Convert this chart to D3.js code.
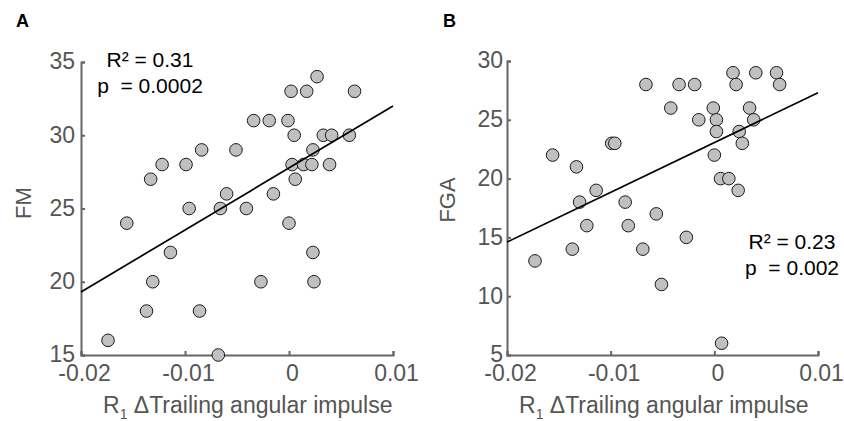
<!DOCTYPE html>
<html>
<head>
<meta charset="utf-8">
<script src="https://cdn.jsdelivr.net/npm/d3@7"></script>
<style>
  body { margin: 0; background: #fff; }
  svg { font-family: "Liberation Sans", Arial, sans-serif; }
  .tick text { fill: #555; font-size: 23px; }
  .domain, .tick line { stroke: #666; stroke-width: 2px; }
</style>
</head>
<body>
<svg width="844" height="421"></svg>
<script>
// Panel A: FM vs R1 delta trailing angular impulse
const fmX = [0.0027, 0.0002, 0.0017, 0.0063, -0.0034, -0.0019, -0.0001, 0.0005, 0.0033, 0.0041,
  0.0058, -0.0084, -0.0051, 0.0023, -0.0122, -0.0099, 0.0003, 0.0014, 0.0022, 0.0039,
  -0.0133, 0.0006, -0.0060, -0.0015, -0.0096, -0.0066, -0.0041, -0.0156, 0.0000, -0.0114,
  0.0023, -0.0131, -0.0027, 0.0024, -0.0137, -0.0086, -0.0174, -0.0068];
const fmY = [34, 33, 33, 33, 31, 31, 31, 30, 30, 30,
  30, 29, 29, 29, 28, 28, 28, 28, 28, 28,
  27, 27, 26, 26, 25, 25, 25, 24, 24, 22,
  22, 20, 20, 20, 18, 18, 16, 15];
const fmFitX = [-0.02, 0.01];
const fmFitY = [19.3, 32.0];

// Panel B: FGA vs R1 delta trailing angular impulse
const fgaX = [0.0018, 0.0040, 0.0060, -0.0066, -0.0034, -0.0019, 0.0021, 0.0063, -0.0042, -0.0001,
  0.0034, -0.0015, 0.0002, 0.0038, 0.0002, 0.0024, -0.0099, -0.0096, 0.0027, -0.0156,
  0.0000, -0.0133, 0.0006, 0.0014, -0.0114, 0.0023, -0.0130, -0.0086, -0.0056, -0.0123,
  -0.0083, -0.0027, -0.0137, -0.0069, -0.0173, -0.0051, 0.0007];
const fgaY = [29, 29, 29, 28, 28, 28, 28, 28, 26, 26,
  26, 25, 25, 25, 24, 24, 23, 23, 23, 22,
  22, 21, 20, 20, 19, 19, 18, 18, 17, 16,
  16, 15, 14, 14, 13, 11, 6];
const fgaFitX = [-0.02, 0.01];
const fgaFitY = [14.6, 27.3];

const xTicks = [-0.02, -0.01, 0, 0.01];
const xTickLabels = ["-0.02", "-0.01", "0", "0.01"];
const fmTicks = [15, 20, 25, 30, 35];
const fgaTicks = [5, 10, 15, 20, 25, 30];

const svg = d3.select("svg");

function panel(cfg) {
  const x = d3.scaleLinear().domain([-0.02, 0.01]).range([cfg.left, cfg.right]);
  const y = d3.scaleLinear().domain(cfg.yDomain).range([cfg.bottom, cfg.top]);

  // ejes estilo matlab, ticks hacia dentro
  svg.append("g")
    .attr("transform", `translate(0,${cfg.bottom})`)
    .call(d3.axisBottom(x).tickValues(xTicks)
      .tickFormat((d, i) => xTickLabels[i])
      .tickSizeInner(-4).tickSizeOuter(-4).tickPadding(10))
    .selectAll("text").attr("dx", 3);

  svg.append("g")
    .attr("transform", `translate(${cfg.left},0)`)
    .call(d3.axisLeft(y).tickValues(cfg.yTicks)
      .tickSizeInner(-4).tickSizeOuter(-4).tickPadding(cfg.yPad))
    .selectAll("text").attr("dy", "0.3em");

  svg.selectAll("g").attr("font-family", null).attr("font-size", null);

  // puntos
  svg.append("g")
    .selectAll("circle")
    .data(cfg.xs.map((d, i) => [d, cfg.ys[i]]))
    .enter()
    .append("circle")
    .attr("cx", d => x(d[0]))
    .attr("cy", d => y(d[1]))
    .attr("r", 6.3)
    .style("fill", "#c0c0c0")
    .style("stroke", "#1a1a1a")
    .style("stroke-width", 1);

  // recta de ajuste
  svg.append("line")
    .attr("x1", x(cfg.fitX[0])).attr("y1", y(cfg.fitY[0]))
    .attr("x2", x(cfg.fitX[1])).attr("y2", y(cfg.fitY[1]))
    .style("stroke", "#000")
    .style("stroke-width", 1.7);

  // etiqueta eje x
  const xl = svg.append("text")
    .attr("x", cfg.xLabelX)
    .attr("y", 413)
    .style("font-size", "23px")
    .style("fill", "#555")
    .style("white-space", "pre");
  xl.append("tspan").text("R");
  xl.append("tspan").text("1").style("font-size", "14px").attr("dy", 6);
  xl.append("tspan").text(" \u0394Trailing angular impulse").attr("dy", -6);

  // etiqueta eje y
  svg.append("text")
    .attr("transform", `translate(${cfg.yLabelX},${cfg.yLabelY}) rotate(-90)`)
    .style("text-anchor", "middle")
    .style("font-size", "22px")
    .style("fill", "#555")
    .text(cfg.yLabel);

  // letra del panel
  svg.append("text")
    .attr("x", cfg.letterX)
    .attr("y", 27)
    .style("font-size", "18px")
    .style("font-weight", "bold")
    .text(cfg.letter);

  // estadisticos
  cfg.stats.forEach((s, i) => {
    svg.append("text")
      .attr("x", cfg.statX)
      .attr("y", cfg.statY + i * 26)
      .style("text-anchor", "middle")
      .style("font-size", "21px")
      .style("white-space", "pre")
      .style("fill", "#000")
      .text(s);
  });
}

panel({
  left: 81, right: 393, top: 62, bottom: 355,
  yDomain: [15, 35], yTicks: fmTicks, yPad: 6,
  xs: fmX, ys: fmY, fitX: fmFitX, fitY: fmFitY,
  xLabelX: 103, yLabel: "FM", yLabelX: 31, yLabelY: 203,
  letter: "A", letterX: 16,
  stats: ["R\u00b2 = 0.31", "p  = 0.0002"], statX: 150, statY: 67
});

panel({
  left: 507, right: 818, top: 61, bottom: 355,
  yDomain: [5, 30], yTicks: fgaTicks, yPad: 4,
  xs: fgaX, ys: fgaY, fitX: fgaFitX, fitY: fgaFitY,
  xLabelX: 519, yLabel: "FGA", yLabelX: 455, yLabelY: 200,
  letter: "B", letterX: 443,
  stats: ["R\u00b2 = 0.23", "p  = 0.002"], statX: 792, statY: 249
});
</script>
</body>
</html>
